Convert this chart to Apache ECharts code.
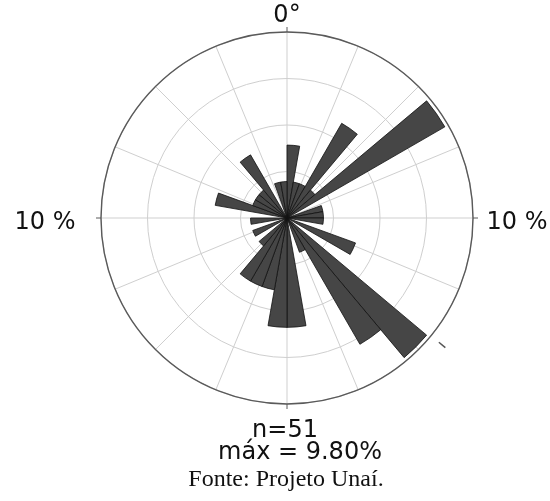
<!DOCTYPE html>
<html>
<head>
<meta charset="utf-8">
<script src="https://cdn.jsdelivr.net/npm/echarts@6/dist/echarts.min.js"></script>
<style>
  html, body { margin: 0; padding: 0; background: #ffffff; }
  #chart { width: 550px; height: 501px; }
</style>
</head>
<body>
<div id="chart"></div>
<script>
// Direction bins (start of each 10° sector, clockwise from north)
const binStarts = [0, 10, 20, 30, 40, 50, 60, 70, 80, 90, 100, 110,
                   120, 130, 140, 150, 160, 170, 180, 190, 200, 210, 220, 230,
                   240, 250, 260, 270, 280, 290, 300, 310, 320, 330, 340, 350];
// Share of measurements falling in each bin (%)
const binPercent = [3.92, 1.96, 1.96, 5.88, 1.96, 9.80, 0, 1.96, 1.96, 1.96, 0, 3.92,
                    0, 9.80, 7.84, 1.96, 0, 5.88, 5.88, 3.92, 3.92, 3.92, 1.96, 0,
                    1.96, 0, 1.96, 0, 3.92, 1.96, 1.96, 1.96, 3.92, 0, 1.96, 1.96];
// Mean direction marker (degrees)
const meanDirection = [129.3];
// Labels around the circle
const cardinalLabels = ['0°', '10 %', '10 %'];
const sampleSize = 51;
const maxPercent = '9.80%';
const sourceNote = 'Fonte: Projeto Unaí.';

const C = [287, 218];
const R = 186;
const sansFont = '24px "DejaVu Sans"';
const serifFont = '24px "Liberation Serif"';

const chart = echarts.init(document.getElementById('chart'), null, { renderer: 'canvas' });

const hiddenRadius = (i) => ({
  polarIndex: i, type: 'value', min: 0, max: 10, interval: 2.5,
  axisLine: { show: false }, axisTick: { show: false }, axisLabel: { show: false },
  splitLine: { show: false }
});

const label = (text, x, y, font) => ({
  type: 'text', x: x, y: y, silent: true,
  style: { text: text, font: font, fill: '#111', align: 'center', verticalAlign: 'middle' }
});

chart.setOption({
  animation: false,
  backgroundColor: '#ffffff',
  polar: [
    { center: C, radius: R },
    { center: C, radius: R },
    { center: C, radius: R }
  ],
  angleAxis: [
    {
      // grid spokes and outer circle
      polarIndex: 0, type: 'value', min: 0, max: 360, interval: 22.5,
      startAngle: 90, clockwise: true,
      axisLine: { show: true, lineStyle: { color: '#5a5a5a', width: 1.4 } },
      axisTick: { show: false }, axisLabel: { show: false },
      splitLine: { show: true, lineStyle: { color: '#cfcfcf', width: 1 } }
    },
    {
      // bins for the rose petals
      polarIndex: 1, type: 'category', data: binStarts, boundaryGap: true,
      startAngle: 90, clockwise: true,
      axisLine: { show: false }, axisTick: { show: false }, axisLabel: { show: false },
      splitLine: { show: false }
    },
    {
      // short ticks at the cardinal directions
      polarIndex: 2, type: 'value', min: 0, max: 360, interval: 90,
      startAngle: 90, clockwise: true,
      axisLine: { show: false },
      axisTick: { show: true, inside: false, length: 5, lineStyle: { color: '#5a5a5a', width: 1 } },
      axisLabel: { show: false },
      splitLine: { show: false }
    }
  ],
  radiusAxis: [
    {
      polarIndex: 0, type: 'value', min: 0, max: 10, interval: 2.5,
      axisLine: { show: false }, axisTick: { show: false }, axisLabel: { show: false },
      splitLine: { show: true, lineStyle: { color: '#cfcfcf', width: 1 } }
    },
    hiddenRadius(1),
    hiddenRadius(2)
  ],
  series: [
    {
      type: 'bar', coordinateSystem: 'polar', polarIndex: 1,
      data: binPercent, barCategoryGap: '0%',
      itemStyle: { color: '#464646', borderColor: '#111', borderWidth: 0.8 },
      silent: true, z: 3
    },
    {
      // mean direction mark just outside the circle
      type: 'custom', coordinateSystem: 'polar', polarIndex: 0, silent: true, z: 4,
      data: meanDirection.map(a => [10.55, a]),
      renderItem: (params, api) => {
        const a = api.value(1);
        const p1 = api.coord([10.55, a]);
        const p2 = api.coord([11.0, a]);
        return {
          type: 'line',
          shape: { x1: p1[0], y1: p1[1], x2: p2[0], y2: p2[1] },
          style: { stroke: '#555', lineWidth: 1.5 }
        };
      }
    }
  ],
  graphic: [
    label(cardinalLabels[0], 287, 16, sansFont),
    label(cardinalLabels[1], 517, 223, sansFont),
    label(cardinalLabels[2], 45, 223, sansFont),
    label('n=' + sampleSize, 285, 431, sansFont),
    label('máx = ' + maxPercent, 300, 453, sansFont),
    label(sourceNote, 286, 480, serifFont)
  ]
});
</script>
</body>
</html>
